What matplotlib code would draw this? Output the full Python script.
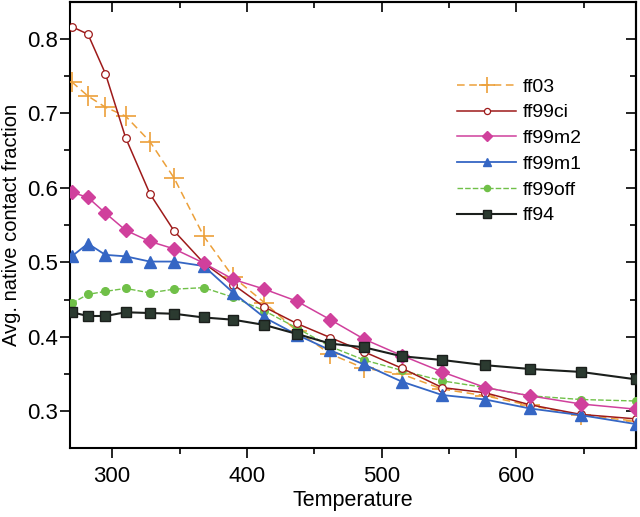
import matplotlib
matplotlib.use("Agg")
import matplotlib.pyplot as plt
from matplotlib.ticker import MultipleLocator

plt.rcParams['font.family'] = ['Liberation Sans', 'DejaVu Sans']

temperature = [270, 282, 295, 310, 328, 346, 368, 390, 413, 437, 462, 487, 515, 545, 577, 610, 648, 689]

ff03    = [0.742, 0.723, 0.708, 0.696, 0.662, 0.613, 0.535, 0.480, 0.446, 0.408, 0.377, 0.358, 0.350, 0.330, 0.321, 0.308, 0.295, 0.287]
ff99ci  = [0.816, 0.806, 0.753, 0.667, 0.592, 0.542, 0.499, 0.470, 0.440, 0.418, 0.399, 0.380, 0.358, 0.332, 0.325, 0.309, 0.296, 0.290]
ff99m2  = [0.594, 0.587, 0.566, 0.543, 0.528, 0.518, 0.499, 0.477, 0.464, 0.448, 0.423, 0.397, 0.375, 0.353, 0.332, 0.321, 0.310, 0.303]
ff99m1  = [0.508, 0.525, 0.510, 0.508, 0.501, 0.501, 0.495, 0.459, 0.426, 0.403, 0.382, 0.363, 0.340, 0.322, 0.316, 0.304, 0.295, 0.283]
ff99off = [0.445, 0.457, 0.461, 0.465, 0.459, 0.464, 0.466, 0.453, 0.435, 0.412, 0.387, 0.369, 0.355, 0.341, 0.332, 0.321, 0.316, 0.314]
ff94    = [0.433, 0.428, 0.428, 0.433, 0.432, 0.431, 0.426, 0.423, 0.416, 0.404, 0.391, 0.386, 0.374, 0.369, 0.362, 0.357, 0.353, 0.343]

fig = plt.figure(figsize=(6.4, 5.17), dpi=100)
ax = fig.add_axes([0.110, 0.1335, 0.884, 0.8625])

ax.plot(temperature, ff03, color='#eca03a', lw=1.1, ls=(0, (5, 3)), marker='+', ms=15, mew=1.2, label='ff03', zorder=3)
ax.plot(temperature, ff99ci, color='#9e1a1a', lw=1.1, marker='o', ms=5.5, mfc='white', mec='#9e1a1a', mew=0.9, label='ff99ci', zorder=4)
ax.plot(temperature, ff99m2, color='#d0409c', lw=1.1, marker='D', ms=7, mfc='#d0409c', mec='#d0409c', label='ff99m2', zorder=5)
ax.plot(temperature, ff99m1, color='#3566c4', lw=1.3, marker='^', ms=8, mfc='#3566c4', mec='#3566c4', label='ff99m1', zorder=4)
ax.plot(temperature, ff99off, color='#70c048', lw=1.0, ls=(0, (4, 1.5)), marker='o', ms=5.5, mfc='#70c048', mec='#70c048', label='ff99off', zorder=3)
ax.plot(temperature, ff94, color='#1b1f1c', lw=1.5, marker='s', ms=6.5, mfc='#2b3a30', mec='#1b1f1c', label='ff94', zorder=6)

ax.set_xlim(269, 689)
ax.set_ylim(0.251, 0.849)
ax.xaxis.set_major_locator(MultipleLocator(100))
ax.xaxis.set_minor_locator(MultipleLocator(50))
ax.yaxis.set_major_locator(MultipleLocator(0.1))
ax.yaxis.set_minor_locator(MultipleLocator(0.05))
ax.set_yticks([0.3, 0.4, 0.5, 0.6, 0.7, 0.8])
ax.set_yticklabels(['0.3', '0.4', '0.5', '0.6', '0.7', '0.8'])

ax.tick_params(axis='both', which='both', direction='out', labelsize=16, width=1.2)
ax.tick_params(axis='both', which='major', length=7)
ax.tick_params(axis='both', which='minor', length=4)
ax.tick_params(axis='y', which='both', pad=2)
ax.tick_params(axis='x', which='both', pad=6)

# inward mirror ticks on top and right
top = ax.secondary_xaxis('top')
top.xaxis.set_major_locator(MultipleLocator(100))
top.xaxis.set_minor_locator(MultipleLocator(50))
top.tick_params(axis='x', which='both', direction='in', labeltop=False, width=1.2)
top.tick_params(axis='x', which='major', length=7)
top.tick_params(axis='x', which='minor', length=4)
right = ax.secondary_yaxis('right')
right.yaxis.set_major_locator(MultipleLocator(0.1))
right.yaxis.set_minor_locator(MultipleLocator(0.05))
right.tick_params(axis='y', which='both', direction='in', labelright=False, width=1.2)
right.tick_params(axis='y', which='major', length=7)
right.tick_params(axis='y', which='minor', length=4)
for s in (top, right):
    for sp in s.spines.values():
        sp.set_linewidth(1.5)

for sp in ax.spines.values():
    sp.set_linewidth(1.5)

ax.set_xlabel('Temperature', fontsize=15.5, labelpad=2)
ax.set_ylabel('Avg. native contact fraction', fontsize=14.5, labelpad=4)

leg = ax.legend(loc='upper left', bbox_to_anchor=(0.653, 0.869), frameon=False, fontsize=14,
                handlelength=3.0, handletextpad=0.35, labelspacing=0.42, markerscale=0.8)

fig.savefig('out.png', dpi=100)
